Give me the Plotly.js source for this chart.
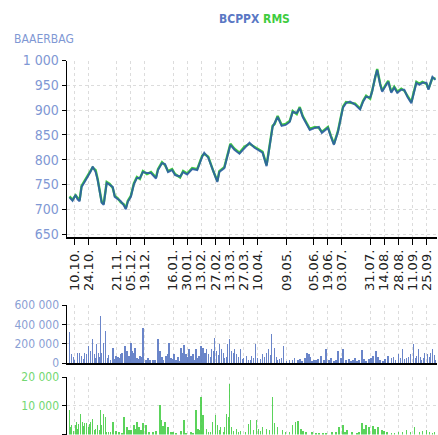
<!DOCTYPE html>
<html>
<head>
<meta charset="utf-8">
<script src="https://cdn.plot.ly/plotly-3.0.1.min.js"></script>
<style>html,body{margin:0;padding:0;background:#fff;}#chart{width:438px;height:435px;}</style>
</head>
<body>
<div id="chart"></div>
<script>
// ---- DATA ----
const tickDates = ['2016-10-10','2016-10-24','2016-11-21','2016-12-05','2016-12-19','2017-01-16','2017-01-30','2017-02-13','2017-02-27','2017-03-13','2017-03-27','2017-04-10','2017-05-09','2017-06-05','2017-06-19','2017-07-03','2017-07-31','2017-08-14','2017-08-28','2017-09-11','2017-09-25'];
const tickLabels = ['10.10.','24.10.','21.11.','05.12.','19.12.','16.01.','30.01.','13.02.','27.02.','13.03.','27.03.','10.04.','09.05.','05.06.','19.06.','03.07.','31.07.','14.08.','28.08.','11.09.','25.09.'];

const priceDates = ['2016-10-05','2016-10-08','2016-10-11','2016-10-13','2016-10-15','2016-10-17','2016-10-20','2016-10-23','2016-10-26','2016-10-28','2016-10-31','2016-11-02','2016-11-04','2016-11-06','2016-11-08','2016-11-10','2016-11-11','2016-11-14','2016-11-17','2016-11-19','2016-11-22','2016-11-25','2016-11-28','2016-11-30','2016-12-02','2016-12-05','2016-12-08','2016-12-11','2016-12-14','2016-12-17','2016-12-21','2016-12-25','2016-12-30','2017-01-01','2017-01-05','2017-01-08','2017-01-11','2017-01-15','2017-01-18','2017-01-23','2017-01-26','2017-01-30','2017-02-04','2017-02-09','2017-02-14','2017-02-16','2017-02-20','2017-02-25','2017-03-01','2017-03-03','2017-03-08','2017-03-14','2017-03-18','2017-03-23','2017-03-28','2017-04-02','2017-04-07','2017-04-12','2017-04-15','2017-04-19','2017-04-22','2017-04-25','2017-04-27','2017-04-30','2017-05-04','2017-05-08','2017-05-12','2017-05-15','2017-05-19','2017-05-22','2017-05-25','2017-05-29','2017-06-01','2017-06-06','2017-06-10','2017-06-13','2017-06-16','2017-06-19','2017-06-22','2017-06-25','2017-06-29','2017-07-04','2017-07-07','2017-07-11','2017-07-16','2017-07-21','2017-07-24','2017-07-27','2017-07-31','2017-08-02','2017-08-05','2017-08-07','2017-08-10','2017-08-12','2017-08-16','2017-08-18','2017-08-21','2017-08-24','2017-08-27','2017-08-31','2017-09-03','2017-09-06','2017-09-10','2017-09-12','2017-09-15','2017-09-18','2017-09-21','2017-09-25','2017-09-27','2017-10-01','2017-10-04'];
const bcppxPrice = [724,717,729,720,716,745,755,765,776,786,775,759,739,713,709,740,753,749,745,725,720,716,708,700,715,725,750,763,763,775,773,773,762,779,793,791,775,779,769,766,775,770,781,779,806,814,804,775,755,775,783,830,820,812,824,834,824,818,814,787,826,866,874,886,868,870,876,896,894,904,886,870,860,864,866,854,860,864,846,830,856,905,914,917,911,901,917,927,925,937,967,981,951,937,951,957,935,945,935,941,941,927,914,931,955,951,955,955,941,967,961];
const rmsPrice   = [726,719,728,722,718,747,758,767,778,784,779,761,737,715,711,742,755,751,743,727,722,714,710,702,717,727,752,765,761,777,771,775,764,781,795,789,777,781,771,764,777,772,783,781,808,812,806,777,757,777,785,832,822,814,826,832,826,820,816,789,828,868,872,888,870,872,878,898,892,906,888,872,862,866,864,856,862,866,848,832,858,907,916,915,913,903,919,929,923,939,969,983,953,939,953,959,937,947,937,943,939,929,916,933,957,953,957,953,943,965,963];

const bcppxVolDates = ['2016-10-05','2016-10-07','2016-10-10','2016-10-13','2016-10-15','2016-10-17','2016-10-20','2016-10-22','2016-10-24','2016-10-26','2016-10-28','2016-10-31','2016-11-01','2016-11-03','2016-11-05','2016-11-06','2016-11-08','2016-11-10','2016-11-12','2016-11-15','2016-11-17','2016-11-20','2016-11-23','2016-11-26','2016-11-29','2016-12-01','2016-12-05','2016-12-06','2016-12-09','2016-12-11','2016-12-14','2016-12-17','2016-12-20','2016-12-22','2016-12-24','2016-12-27','2017-01-01','2017-01-03','2017-01-06','2017-01-09','2017-01-12','2017-01-14','2017-01-17','2017-01-19','2017-01-22','2017-01-24','2017-01-27','2017-01-29','2017-02-01','2017-02-03','2017-02-06','2017-02-08','2017-02-11','2017-02-13','2017-02-15','2017-02-18','2017-02-20','2017-02-23','2017-02-26','2017-02-28','2017-03-03','2017-03-05','2017-03-08','2017-03-11','2017-03-13','2017-03-15','2017-03-18','2017-03-20','2017-03-24','2017-03-27','2017-03-30','2017-04-01','2017-04-04','2017-04-08','2017-04-10','2017-04-15','2017-04-19','2017-04-21','2017-04-24','2017-04-27','2017-04-30','2017-05-04','2017-05-06','2017-05-09','2017-05-12','2017-05-17','2017-05-20','2017-05-24','2017-05-29','2017-05-31','2017-06-03','2017-06-07','2017-06-12','2017-06-17','2017-06-20','2017-06-25','2017-06-29','2017-07-02','2017-07-04','2017-07-07','2017-07-12','2017-07-16','2017-07-20','2017-07-23','2017-07-27','2017-07-30','2017-08-03','2017-08-06','2017-08-10','2017-08-13','2017-08-18','2017-08-21','2017-08-25','2017-08-28','2017-09-01','2017-09-05','2017-09-09','2017-09-12','2017-09-15','2017-09-17','2017-09-20','2017-09-23','2017-09-26','2017-09-29','2017-10-01','2017-10-04',
  '2016-10-09','2016-10-19','2016-10-30','2016-11-04','2016-11-13','2016-11-18','2016-11-22','2016-11-25','2016-12-03','2016-12-08','2016-12-13','2016-12-16','2016-12-29','2017-01-05','2017-01-11','2017-01-16','2017-01-21','2017-01-26','2017-01-31','2017-02-05','2017-02-10','2017-02-17','2017-02-22','2017-02-25','2017-03-02','2017-03-07','2017-03-10','2017-03-17','2017-03-22','2017-03-26','2017-04-03','2017-04-06','2017-04-13','2017-04-17','2017-04-23','2017-04-29','2017-05-02','2017-05-15','2017-05-22','2017-05-27','2017-06-01','2017-06-05','2017-06-09','2017-06-15','2017-06-22','2017-06-27','2017-07-10','2017-07-14','2017-07-18','2017-07-25','2017-08-01','2017-08-08','2017-08-15','2017-08-23','2017-08-30','2017-09-03','2017-09-07','2017-09-14','2017-09-19','2017-09-22','2017-09-28','2017-10-03'];
const bcppxVol = [316000,88000,35000,105000,105000,70000,105000,88000,175000,123000,245000,50000,193000,105000,490000,105000,210000,333000,53000,35000,158000,70000,53000,105000,175000,123000,210000,123000,158000,53000,70000,358000,35000,53000,28000,35000,245000,123000,35000,70000,210000,53000,88000,35000,18000,158000,182000,88000,140000,70000,35000,140000,70000,175000,158000,140000,88000,140000,263000,123000,193000,140000,53000,193000,245000,123000,140000,88000,140000,53000,70000,35000,70000,193000,53000,88000,105000,147000,305000,158000,35000,53000,175000,18000,35000,53000,35000,18000,105000,88000,18000,35000,70000,147000,35000,18000,123000,53000,140000,35000,18000,53000,35000,130000,18000,42000,77000,123000,35000,18000,77000,53000,35000,88000,140000,53000,88000,193000,70000,147000,35000,105000,88000,105000,140000,35000,
  60000,40000,90000,60000,80000,40000,60000,90000,70000,100000,40000,60000,30000,60000,90000,40000,60000,100000,60000,90000,50000,100000,60000,120000,80000,100000,60000,100000,60000,40000,30000,50000,40000,60000,80000,60000,40000,30000,40000,50000,60000,30000,40000,30000,50000,30000,40000,30000,20000,40000,50000,60000,40000,60000,50000,40000,60000,50000,60000,50000,60000,80000];

const rmsVolDates = ['2016-10-05','2016-10-07','2016-10-09','2016-10-11','2016-10-12','2016-10-14','2016-10-16','2016-10-18','2016-10-20','2016-10-22','2016-10-25','2016-10-26','2016-10-28','2016-10-31','2016-11-02','2016-11-05','2016-11-06','2016-11-08','2016-11-10','2016-11-11','2016-11-15','2016-11-17','2016-11-20','2016-11-23','2016-11-28','2016-12-01','2016-12-05','2016-12-08','2016-12-11','2016-12-13','2016-12-17','2016-12-20','2016-12-23','2016-12-27','2016-12-30','2017-01-03','2017-01-04','2017-01-08','2017-01-11','2017-01-14','2017-01-19','2017-01-24','2017-01-27','2017-01-29','2017-02-03','2017-02-08','2017-02-10','2017-02-13','2017-02-15','2017-02-18','2017-02-22','2017-02-24','2017-02-27','2017-03-01','2017-03-04','2017-03-07','2017-03-10','2017-03-13','2017-03-15','2017-03-17','2017-03-20','2017-03-24','2017-03-29','2017-04-01','2017-04-03','2017-04-09','2017-04-11','2017-04-15','2017-04-19','2017-04-25','2017-04-27','2017-04-30','2017-05-05','2017-05-12','2017-05-15','2017-05-18','2017-05-20','2017-05-23','2017-05-28','2017-06-03','2017-06-10','2017-06-17','2017-06-23','2017-06-30','2017-07-04','2017-07-08','2017-07-13','2017-07-18','2017-07-23','2017-07-27','2017-07-30','2017-08-03','2017-08-08','2017-08-12','2017-08-17','2017-08-21','2017-08-28','2017-09-05','2017-09-13','2017-09-18','2017-09-25','2017-10-01',
  '2016-10-06','2016-10-13','2016-10-19','2016-10-24','2016-10-30','2016-11-04','2016-11-13','2016-11-26','2016-12-03','2016-12-10','2016-12-15','2017-01-06','2017-01-16','2017-02-05','2017-02-12','2017-02-20','2017-03-03','2017-03-08','2017-03-12','2017-03-22','2017-04-06','2017-04-13','2017-04-22','2017-05-08','2017-05-25','2017-06-07','2017-06-14','2017-06-27','2017-07-06','2017-07-20','2017-07-25','2017-08-05','2017-08-14','2017-08-24','2017-09-01','2017-09-09','2017-09-21','2017-09-28','2017-10-03'];
const rmsVol = [8700,3200,1400,3200,4400,3800,7100,4400,4000,4000,3800,4400,5500,2000,3200,8700,3200,7300,6100,800,800,4400,1400,800,6100,2600,1600,3200,4400,2600,4000,3200,800,800,1200,10200,5000,4400,2600,800,500,1400,5200,500,800,8700,2000,12900,6700,2000,800,4400,6700,3200,2600,800,7300,17600,2600,1400,2000,1400,800,3800,5000,5000,2000,2700,2000,13000,3900,2700,1500,1000,3300,4500,4700,2000,1000,1000,600,600,1000,2700,3300,1500,1000,600,3900,3300,2700,2900,2500,1500,1000,600,1000,1500,2500,1000,1500,600,
  2500,2000,3000,2500,1500,1500,1000,500,1500,2000,1500,3000,800,600,1500,1000,1500,2500,6000,800,1500,1200,1500,800,1200,600,400,800,1000,800,2000,1800,1200,600,800,1000,1200,800,1000];

// ---- STYLE ----
const BLUE = '#5a78c4';
const GREEN = '#3fcc3f';
const H = 435;
const DAY = 86400000;
const fontFam = '"DejaVu Sans Condensed", "DejaVu Sans", sans-serif';

const gridCommon = {showgrid:true, gridcolor:'#dcdcdc', griddash:'dot', gridwidth:1, zeroline:false};
const xCommon = Object.assign({}, gridCommon, {
  type:'date', range:['2016-10-02 12:00','2017-10-05 12:00'],
  tickmode:'array', tickvals:tickDates, ticktext:tickLabels,
  showline:true, linecolor:'#000', linewidth:1.5
});
const yCommon = Object.assign({}, gridCommon, {
  showline:true, linecolor:'#000', linewidth:1.5,
  ticks:'outside', ticklen:4, tickcolor:'#000', separatethousands:true,
  tickformat:',d', exponentformat:'none'
});

const traces = [
  {x:priceDates, y:rmsPrice, type:'scatter', mode:'lines', line:{color:GREEN, width:2.4}, xaxis:'x', yaxis:'y', hoverinfo:'skip'},
  {x:priceDates, y:bcppxPrice, type:'scatter', mode:'lines', line:{color:'#2b58a8', width:2}, opacity:0.85, xaxis:'x', yaxis:'y', hoverinfo:'skip'},
  {x:bcppxVolDates, y:bcppxVol, type:'bar', marker:{color:BLUE, line:{width:0}}, opacity:0.9, width:DAY*1.5, xaxis:'x2', yaxis:'y2', hoverinfo:'skip'},
  {x:rmsVolDates, y:rmsVol, type:'bar', marker:{color:GREEN, line:{width:0}}, opacity:0.85, width:DAY*1.5, xaxis:'x3', yaxis:'y3', hoverinfo:'skip'}
];

const layout = {
  width:438, height:435,
  margin:{l:67, r:1, t:0, b:0, pad:0},
  paper_bgcolor:'#fff', plot_bgcolor:'#fff',
  showlegend:false, bargap:0,
  separators:', ',
  font:{family:fontFam, size:12, color:'#333'},
  xaxis:Object.assign({}, xCommon, {anchor:'y', tickangle:-90, ticks:'outside', ticklen:6, tickcolor:'#000',
    tickfont:{family:'"DejaVu Sans", sans-serif', size:13, color:'#222'}}),
  yaxis:Object.assign({}, yCommon, {domain:[1-237/H, 1-60.5/H], range:[644,1000], tickmode:'array', tickvals:[650,700,750,800,850,900,950,1000],
    tickfont:{family:fontFam, size:14, color:'#7f98d4'}}),
  xaxis2:Object.assign({}, xCommon, {anchor:'y2', matches:'x', showticklabels:false, ticks:''}),
  yaxis2:Object.assign({}, yCommon, {domain:[1-363/H, 1-305/H], range:[0,600000], tickmode:'array', tickvals:[0,200000,400000,600000],
    tickfont:{family:fontFam, size:12, color:'#8aa0d4'}}),
  xaxis3:Object.assign({}, xCommon, {anchor:'y3', matches:'x', showticklabels:false, ticks:''}),
  yaxis3:Object.assign({}, yCommon, {domain:[0.001, 1-377/H], range:[0,20000], tickmode:'array', tickvals:[0,10000,20000],
    tickfont:{family:fontFam, size:12, color:'#72d872'}}),
  annotations:[
    {xref:'paper', yref:'paper', x:0.508, y:1-19/H, xanchor:'center', yanchor:'middle', showarrow:false,
     text:'<b><span style="color:#5a78c4">BCPPX</span> <span style="color:#3fcc3f">RMS</span></b>',
     font:{family:fontFam, size:12}},
    {xref:'paper', yref:'paper', x:(12-67)/370, y:1-39/H, xanchor:'left', yanchor:'middle', showarrow:false,
     text:'BAAERBAG', font:{family:fontFam, size:12, color:'#7f98d4'}}
  ]
};

Plotly.newPlot('chart', traces, layout, {staticPlot:true, displayModeBar:false});
</script>
</body>
</html>
